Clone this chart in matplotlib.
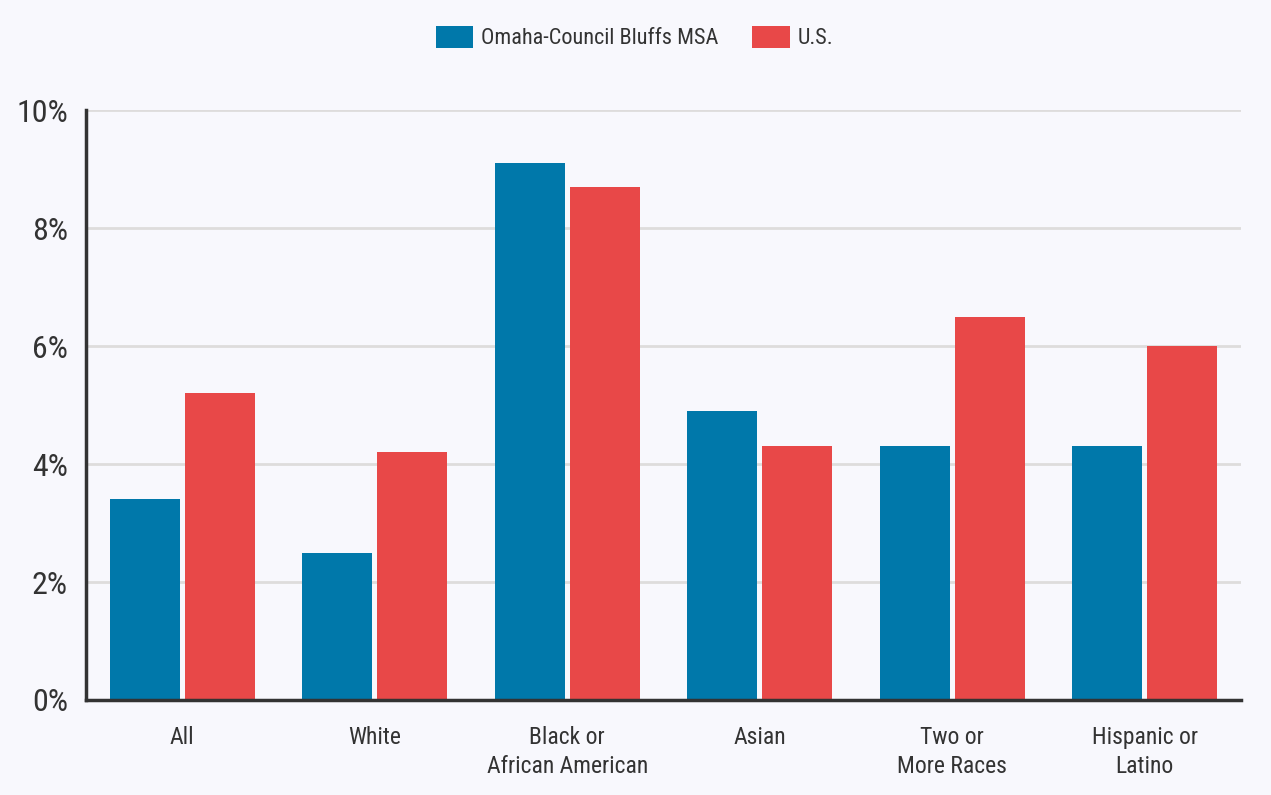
import matplotlib
matplotlib.use("Agg")
import matplotlib.pyplot as plt
from matplotlib import font_manager
import numpy as np

# data (percent)
categories = ["All", "White", "Black or\nAfrican American", "Asian",
              "Two or\nMore Races", "Hispanic or\nLatino"]
omaha = [3.4, 2.5, 9.1, 4.9, 4.3, 4.3]
us = [5.2, 4.2, 8.7, 4.3, 6.5, 6.0]
series_names = ["Omaha-Council Bluffs MSA", "U.S."]
yticks = [0, 2, 4, 6, 8, 10]

names = {f.name for f in font_manager.fontManager.ttflist}
if "Roboto Condensed" in names:
    fam, stretch = "Roboto Condensed", "normal"
else:
    fam, stretch = "DejaVu Sans", "condensed"
plt.rcParams["font.family"] = [fam]
plt.rcParams["font.stretch"] = stretch

blue = "#0078AA"
red = "#E84848"
bg = "#F8F8FD"
txt = "#333333"

fig = plt.figure(figsize=(12.71, 7.95), dpi=100, facecolor=bg)
ax = fig.add_axes([0.0677, 0.1195, 0.9087, 0.7421], facecolor=bg)

x = np.arange(len(categories))
w = 0.364
off = 0.195
ax.bar(x - off, omaha, w, color=blue, label=series_names[0], zorder=3)
ax.bar(x + off, us, w, color=red, label=series_names[1], zorder=3)

ax.set_xlim(-0.5, len(categories) - 0.5)
ax.set_ylim(0, 10)
ax.set_yticks(yticks)
ax.set_yticklabels([f"{t}%" for t in yticks])
ax.set_xticks(x)
ax.set_xticklabels(categories, linespacing=1.3)
ax.grid(axis="y", color="#DEDCDC", linewidth=2, zorder=0)
ax.tick_params(axis="both", length=0, colors=txt)
ax.tick_params(axis="y", labelsize=23, pad=13)
ax.tick_params(axis="x", labelsize=17, pad=19)
for s in ["top", "right"]:
    ax.spines[s].set_visible(False)
for s in ["left", "bottom"]:
    ax.spines[s].set_color("#333333")
    ax.spines[s].set_linewidth(2.5)
    ax.spines[s].set_zorder(4)

fig.legend(loc="center", bbox_to_anchor=(0.499, 0.953), ncol=2, frameon=False,
           fontsize=16, handlelength=1.7, handleheight=1.15, columnspacing=1.5,
           handletextpad=0.35, labelcolor=txt)

fig.savefig("out.png", dpi=100, facecolor=bg)
